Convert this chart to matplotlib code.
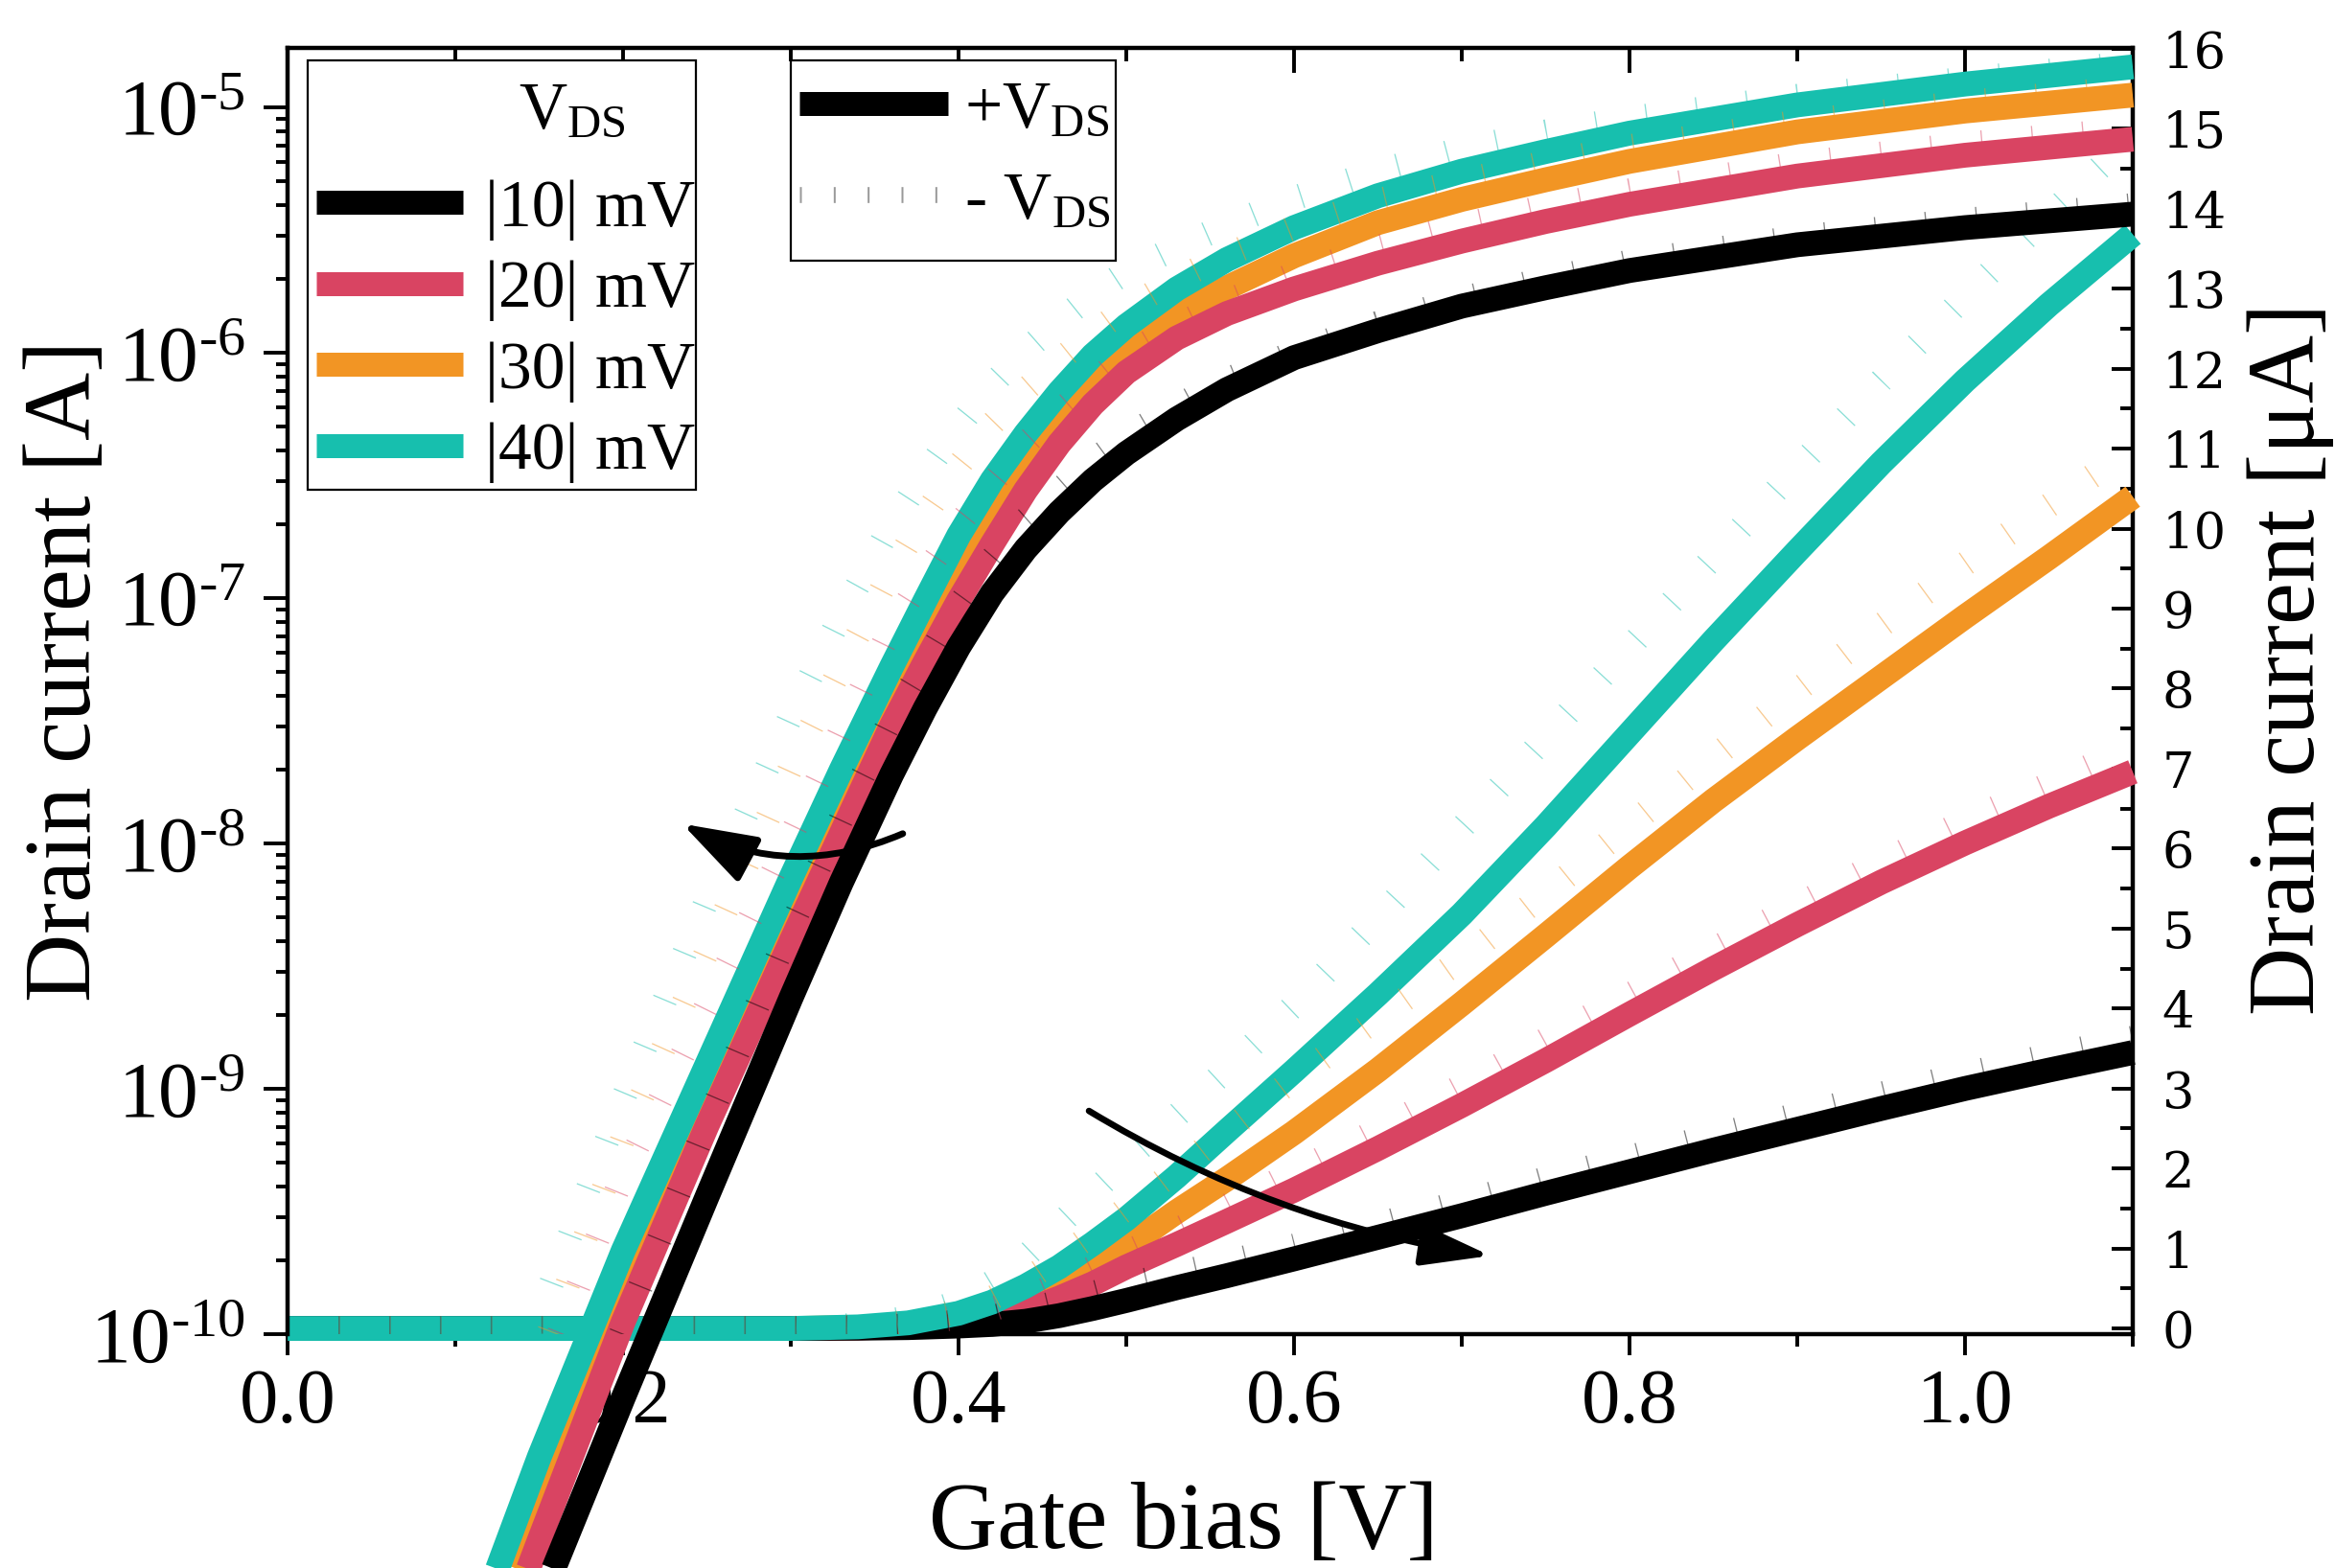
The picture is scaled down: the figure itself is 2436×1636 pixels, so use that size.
import matplotlib
matplotlib.use('Agg')
import matplotlib.pyplot as plt
import numpy as np
from matplotlib.lines import Line2D
from matplotlib.patches import FancyArrowPatch, Rectangle
from matplotlib.ticker import (MultipleLocator, LogLocator, NullFormatter,
                               FormatStrFormatter, FuncFormatter)

plt.rcParams['font.family'] = 'Liberation Serif'
plt.rcParams['mathtext.fontset'] = 'custom'
plt.rcParams['mathtext.rm'] = 'Liberation Serif'
plt.rcParams['mathtext.it'] = 'Liberation Serif:italic'
plt.rcParams['mathtext.bf'] = 'Liberation Serif:bold'

# gate bias [V]
vg_log = [0.10, 0.12, 0.15, 0.20, 0.25, 0.30, 0.33, 0.36, 0.38, 0.40, 0.42, 0.44, 0.46,
          0.48, 0.50, 0.53, 0.56, 0.60, 0.65, 0.70, 0.75, 0.80, 0.90, 1.00, 1.10]
vg_lin = [0.0, 0.05, 0.10, 0.15, 0.20, 0.25, 0.30, 0.34, 0.37, 0.40, 0.42, 0.44, 0.46,
          0.48, 0.50, 0.53, 0.56, 0.60, 0.65, 0.70, 0.75, 0.80, 0.85, 0.90, 0.95,
          1.00, 1.05, 1.10]

# log10(drain current / A), +VDS
log_10 = [-11.95, -11.62, -11.1, -10.26, -9.44, -8.63, -8.16, -7.72, -7.45, -7.20, -6.98,
          -6.80, -6.65, -6.52, -6.41, -6.27, -6.15, -6.02, -5.91, -5.81, -5.735, -5.665,
          -5.56, -5.49, -5.435]
log_20 = [-11.75, -11.38, -10.84, -9.95, -9.15, -8.40, -7.96, -7.52, -7.26, -7.01, -6.78,
          -6.56, -6.37, -6.21, -6.08, -5.94, -5.84, -5.74, -5.635, -5.545, -5.465, -5.395,
          -5.28, -5.195, -5.13]
log_30 = [-11.62, -11.26, -10.72, -9.85, -9.09, -8.33, -7.89, -7.46, -7.18, -6.91, -6.67,
          -6.46, -6.28, -6.12, -5.99, -5.85, -5.735, -5.605, -5.47, -5.375, -5.295, -5.22,
          -5.10, -5.015, -4.95]
log_40 = [-11.42, -11.05, -10.5, -9.66, -8.90, -8.14, -7.70, -7.28, -7.01, -6.745, -6.52,
          -6.33, -6.16, -6.01, -5.89, -5.74, -5.62, -5.49, -5.36, -5.26, -5.18, -5.105,
          -4.99, -4.905, -4.835]

# log10(drain current / A), -VDS
logn_10 = [-11.6, -11.3, -10.82, -9.98, -9.14, -8.34, -7.90, -7.49, -7.26, -7.03, -6.84,
           -6.68, -6.56, -6.44, -6.34, -6.22, -6.11, -6.00, -5.88, -5.78, -5.70, -5.63,
           -5.53, -5.46, -5.40]
logn_20 = [-11.05, -10.72, -10.2, -9.35, -8.66, -7.97, -7.54, -7.12, -6.90, -6.70, -6.53,
           -6.37, -6.24, -6.12, -6.01, -5.89, -5.79, -5.68, -5.57, -5.48, -5.405, -5.34,
           -5.23, -5.15, -5.09]
logn_30 = [-10.95, -10.62, -10.1, -9.2, -8.44, -7.69, -7.28, -6.89, -6.66, -6.46, -6.29,
           -6.15, -6.03, -5.92, -5.82, -5.70, -5.60, -5.49, -5.38, -5.30, -5.225, -5.16,
           -5.06, -4.98, -4.92]
logn_40 = [-10.75, -10.42, -9.92, -9.04, -8.23, -7.48, -7.07, -6.70, -6.49, -6.30, -6.13,
           -5.99, -5.87, -5.76, -5.67, -5.57, -5.48, -5.37, -5.26, -5.17, -5.10, -5.045,
           -4.955, -4.885, -4.82]

# drain current [uA], +VDS
lin_10 = [0, 0, 0, 0, 0, 0, 0, 0.003, 0.01, 0.03, 0.05, 0.09, 0.16, 0.25, 0.35, 0.51,
          0.66, 0.87, 1.14, 1.41, 1.69, 1.96, 2.23, 2.49, 2.75, 3.00, 3.23, 3.45]
lin_20 = [0, 0, 0, 0, 0, 0, 0, 0.005, 0.03, 0.07, 0.12, 0.22, 0.38, 0.56, 0.77, 1.05,
          1.34, 1.73, 2.25, 2.79, 3.35, 3.93, 4.50, 5.05, 5.58, 6.07, 6.53, 6.96]
lin_30 = [0, 0, 0, 0, 0, 0, 0, 0.01, 0.04, 0.11, 0.19, 0.32, 0.53, 0.76, 1.02, 1.46,
          1.87, 2.45, 3.23, 4.06, 4.91, 5.77, 6.60, 7.38, 8.14, 8.90, 9.64, 10.40]
lin_40 = [0, 0, 0, 0, 0, 0, 0, 0.02, 0.07, 0.19, 0.33, 0.53, 0.77, 1.06, 1.37, 1.90,
          2.47, 3.22, 4.18, 5.18, 6.28, 7.44, 8.60, 9.72, 10.82, 11.85, 12.80, 13.68]

# drain current [uA], -VDS
linn_10 = [0, 0, 0, 0, 0, 0, 0, 0.01, 0.03, 0.08, 0.14, 0.23, 0.33, 0.44, 0.55, 0.69,
           0.83, 1.03, 1.30, 1.58, 1.87, 2.14, 2.41, 2.67, 2.93, 3.18, 3.41, 3.63]
linn_20 = [0, 0, 0, 0, 0, 0, 0, 0.01, 0.05, 0.14, 0.24, 0.38, 0.56, 0.76, 0.95, 1.23,
           1.53, 1.95, 2.48, 3.03, 3.61, 4.17, 4.74, 5.29, 5.83, 6.34, 6.80, 7.27]
linn_30 = [0, 0, 0, 0, 0, 0, 0, 0.02, 0.08, 0.22, 0.38, 0.60, 0.88, 1.18, 1.50, 1.98,
           2.47, 3.12, 3.88, 4.62, 5.44, 6.29, 7.14, 7.98, 8.79, 9.56, 10.29, 11.0]
linn_40 = [0, 0, 0, 0, 0, 0, 0, 0.04, 0.13, 0.33, 0.58, 0.90, 1.30, 1.70, 2.10, 2.66,
           3.24, 4.04, 5.13, 6.26, 7.39, 8.52, 9.64, 10.76, 11.85, 12.9, 13.92, 14.9]

vds_labels = ['|10| mV', '|20| mV', '|30| mV', '|40| mV']
colors = ['black', '#D94462', '#F29524', '#17BFAE']

LW = 9.3
DASH = (0, (0.05, 2.0))

fig = plt.figure(figsize=(12.18, 8.18), dpi=200)
ax_lin = fig.add_axes([0.1232, 0.1491, 0.7902, 0.8203])
ax_log = ax_lin.twinx()

# linear curves (right axis), drawn first
lin_pos = [lin_10, lin_20, lin_30, lin_40]
lin_neg = [linn_10, linn_20, linn_30, linn_40]
for i in [2, 1, 0, 3]:
    ax_lin.plot(vg_lin, lin_pos[i], color=colors[i], lw=LW, solid_capstyle='butt',
                solid_joinstyle='round', clip_on=False, zorder=3)
for i in [2, 1, 0, 3]:
    ax_lin.plot(vg_lin, lin_neg[i], color=colors[i], lw=LW, ls=DASH, alpha=0.5,
                dash_capstyle='butt', zorder=4)

# log curves (left axis)
log_pos = [log_10, log_20, log_30, log_40]
log_neg = [logn_10, logn_20, logn_30, logn_40]
for i in [2, 1, 0, 3]:
    ax_log.plot(vg_log, 10 ** np.array(log_pos[i]), color=colors[i], lw=LW,
                solid_capstyle='butt', solid_joinstyle='round', clip_on=False, zorder=3)
for i in [2, 1, 0, 3]:
    ax_log.plot(vg_log, 10 ** np.array(log_neg[i]), color=colors[i], lw=LW, ls=DASH,
                alpha=0.5, dash_capstyle='butt', zorder=4)

# axes limits / scales
ax_lin.set_xlim(0, 1.1)
ax_lin.set_ylim(-0.072, 16.01)
ax_log.set_yscale('log')
ax_log.set_ylim(1e-10, 1.746e-5)

# spines
for s in ['left', 'top']:
    ax_lin.spines[s].set_visible(False)
for s in ['bottom', 'right']:
    ax_log.spines[s].set_visible(False)
for ax in (ax_lin, ax_log):
    for sp in ax.spines.values():
        sp.set_linewidth(1.6)

# x axis (bottom, out) and top ticks (in)
ax_lin.xaxis.set_major_locator(MultipleLocator(0.2))
ax_lin.xaxis.set_minor_locator(MultipleLocator(0.1))
ax_lin.xaxis.set_major_formatter(FormatStrFormatter('%.1f'))
ax_lin.tick_params(axis='x', which='major', direction='out', length=8, width=1.4,
                   labelsize=29, pad=5)
ax_lin.tick_params(axis='x', which='minor', direction='out', length=4.5, width=1.4)

ax_log.xaxis.set_visible(True)
ax_log.xaxis.tick_top()
ax_log.tick_params(axis='x', which='major', direction='in', length=9.5, width=1.4,
                   labeltop=False, labelbottom=False)
ax_log.tick_params(axis='x', which='minor', direction='in', length=5, width=1.4)

# right axis
ax_lin.yaxis.tick_right()
ax_lin.yaxis.set_label_position('right')
ax_lin.yaxis.set_major_locator(MultipleLocator(1))
ax_lin.yaxis.set_minor_locator(MultipleLocator(0.5))
ax_lin.tick_params(axis='y', which='major', direction='in', length=8, width=1.4,
                   labelsize=19, pad=11, labelfontfamily='DejaVu Serif')
ax_lin.tick_params(axis='y', which='minor', direction='in', length=4.7, width=1.4)

# left axis
ax_log.yaxis.tick_left()
ax_log.yaxis.set_label_position('left')
ax_log.yaxis.set_major_formatter(
    FuncFormatter(lambda v, p: '10$^{\u2010%d}$' % round(-np.log10(v))))
ax_log.yaxis.set_minor_locator(LogLocator(base=10, subs=np.arange(2, 10), numticks=50))
ax_log.yaxis.set_minor_formatter(NullFormatter())
ax_log.tick_params(axis='y', which='major', direction='out', length=9, width=1.4,
                   labelsize=30, pad=7)
ax_log.tick_params(axis='y', which='minor', direction='out', length=4.3, width=1.4)

# axis labels
ax_log.set_ylabel('Drain current [A]', fontsize=35.5)
ax_log.yaxis.set_label_coords(-0.096, 0.516)
ax_lin.set_ylabel('Drain current [μA]', fontsize=35.5)
ax_lin.yaxis.set_label_coords(1.062, 0.525)
ax_lin.set_xlabel('Gate bias [V]', fontsize=35.5)
ax_lin.xaxis.set_label_coords(0.4857, -0.115)

# arrows
arr_log = FancyArrowPatch(posA=(0.3667, 10 ** -7.96), posB=(0.2352, 10 ** -7.92),
                          connectionstyle='arc3,rad=-0.24',
                          arrowstyle='-|>,head_length=24,head_width=8',
                          mutation_scale=1, lw=2.5, color='black',
                          shrinkA=0, shrinkB=0, transform=ax_log.transData, zorder=6)
ax_log.add_patch(arr_log)
arr_lin = FancyArrowPatch(posA=(0.4777, 2.72), posB=(0.717, 0.91),
                          connectionstyle='arc3,rad=0.1',
                          arrowstyle='-|>,head_length=22,head_width=6.5',
                          mutation_scale=1, lw=2.4, color='black',
                          shrinkA=0, shrinkB=0, transform=ax_lin.transData, zorder=6)
ax_lin.add_patch(arr_lin)

# legend 1: VDS magnitude (frame + title + entries)
ax_log.add_patch(Rectangle((0.0109, 0.6569), 0.2103, 0.3336, transform=ax_log.transAxes,
                           facecolor='white', edgecolor='black', lw=0.8, zorder=9))
ax_log.text(0.1252, 0.9382, 'V$_{\\mathrm{DS}}$', transform=ax_log.transAxes,
            fontsize=25, ha='left', va='baseline', zorder=11)
handles1 = [Line2D([], [], color=c, lw=9, solid_capstyle='butt') for c in colors]
leg1 = ax_log.legend(handles1, vds_labels, loc='upper left',
                     bbox_to_anchor=(0.0156, 0.8979), borderaxespad=0, borderpad=0,
                     frameon=False, fontsize=25, handlelength=2.2,
                     handletextpad=0.33, labelspacing=0.3)
leg1.set_zorder(11)
ax_log.add_artist(leg1)

# legend 2: polarity
ax_log.add_patch(Rectangle((0.2727, 0.8348), 0.1761, 0.1557, transform=ax_log.transAxes,
                           facecolor='white', edgecolor='black', lw=0.8, zorder=9))
h_pos = Line2D([], [], color='black', lw=9, solid_capstyle='butt')
h_neg = Line2D([], [], color='black', lw=6, ls=(0, (0.12, 2.0)), alpha=0.4,
               dash_capstyle='butt')
leg2 = ax_log.legend([h_pos, h_neg], ['+V$_{\\mathrm{DS}}$', '- V$_{\\mathrm{DS}}$'],
                     loc='upper left', bbox_to_anchor=(0.2774, 0.9747),
                     borderaxespad=0, borderpad=0, frameon=False, fontsize=25,
                     handlelength=2.23, handletextpad=0.245, labelspacing=0.45)
leg2.set_zorder(11)

fig.savefig('out.png', dpi=200)
